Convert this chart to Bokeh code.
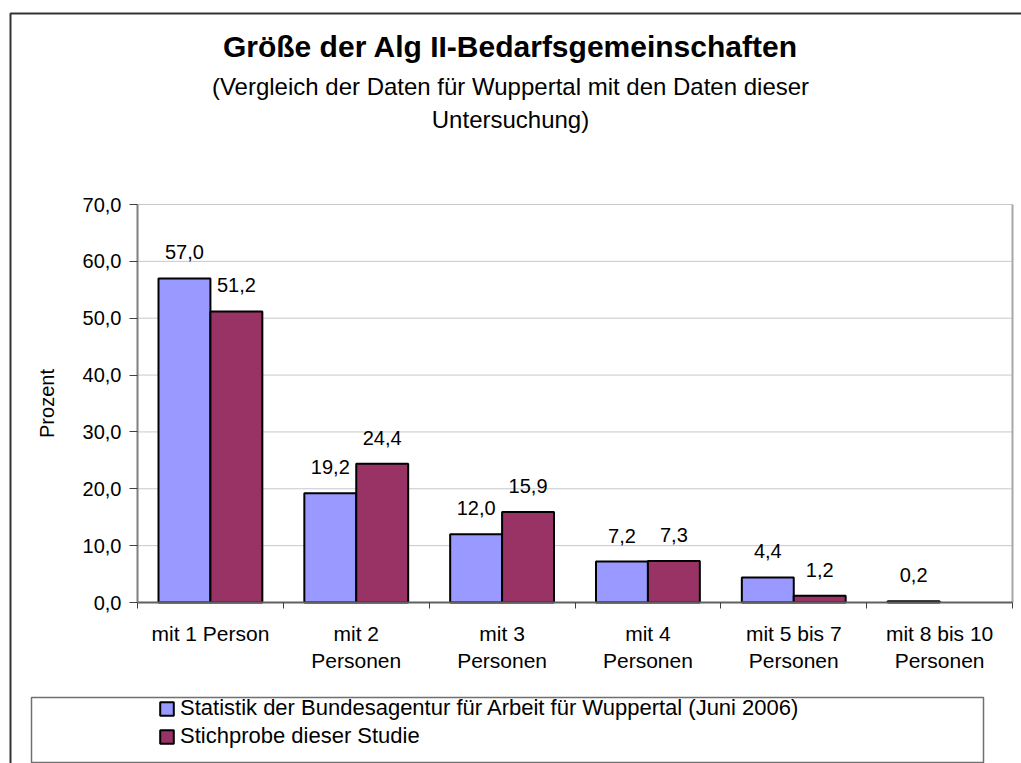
from bokeh.plotting import figure
from bokeh.models import (Range1d, LinearAxis, FixedTicker, CustomJSTickFormatter, Label,
                          BoxAnnotation, Legend, LegendItem, ColumnDataSource)
from bokeh.transform import dodge
from bokeh.core.properties import value
from bokeh.embed import file_html
from bokeh.resources import INLINE

# ---------------- data ----------------
categories = ["mit 1 Person", "mit 2\nPersonen", "mit 3\nPersonen", "mit 4\nPersonen",
              "mit 5 bis 7\nPersonen", "mit 8 bis 10\nPersonen"]
bundesagentur = [57.0, 19.2, 12.0, 7.2, 4.4, 0.2]
stichprobe = [51.2, 24.4, 15.9, 7.3, 1.2, None]
y_ticks = [0, 10, 20, 30, 40, 50, 60, 70]
series_names = ["Statistik der Bundesagentur für Arbeit für Wuppertal (Juni 2006)",
                "Stichprobe dieser Studie"]
title_text = "Größe der Alg II-Bedarfsgemeinschaften"
subtitle_lines = ["(Vergleich der Daten für Wuppertal mit den Daten dieser", "Untersuchung)"]
y_label = "Prozent"

# ---------------- layout constants (pixels) ----------------
FONT = "Liberation Sans"
W, H = 1021, 763
PLOT_L, PLOT_R, PLOT_T, PLOT_B = 137, 1012, 204, 602
N = len(categories)
YMIN, YMAX = y_ticks[0], y_ticks[-1]

xs = (PLOT_R - PLOT_L) / N
ys = (PLOT_B - PLOT_T) / (YMAX - YMIN)
x_range = Range1d(-PLOT_L / xs, N + (W - PLOT_R) / xs)
y_range = Range1d(YMIN - (H - PLOT_B) / ys, YMAX + PLOT_T / ys)


def fmt(v):
    return f"{v:.1f}".replace(".", ",")


def make_source(vals):
    idx = [i for i, v in enumerate(vals) if v is not None]
    return ColumnDataSource(dict(x=[i + 0.5 for i in idx],
                                 cat=[categories[i] for i in idx],
                                 val=[vals[i] for i in idx],
                                 lab=[fmt(vals[i]) for i in idx]))


src1 = make_source(bundesagentur)
src2 = make_source(stichprobe)

p = figure(x_range=x_range, y_range=y_range, width=W, height=H, output_backend="svg",
           toolbar_location=None, x_axis_location=None, y_axis_location=None, title=None,
           min_border=0, min_border_left=0, min_border_right=0, min_border_top=0,
           min_border_bottom=0)
p.background_fill_color = "white"
p.border_fill_color = "white"
p.outline_line_color = None
p.xgrid.grid_line_color = None
p.ygrid.grid_line_color = None

# grid lines + plot-area right border
grid_y = y_ticks[1:]
p.segment(x0=[0] * len(grid_y), x1=[N] * len(grid_y), y0=grid_y, y1=grid_y,
          line_color="#c8c8c8", line_width=1)
p.segment(x0=[N], x1=[N], y0=[YMIN], y1=[YMAX], line_color="#a8a8a8", line_width=2)

# y axis
yaxis = LinearAxis(ticker=FixedTicker(ticks=y_ticks), fixed_location=0, bounds=(YMIN, YMAX),
                   formatter=CustomJSTickFormatter(code="return tick.toFixed(1).replace('.', ',')"),
                   axis_label=y_label)
yaxis.axis_line_color = "#808080"
yaxis.axis_line_width = 2
yaxis.major_tick_line_color = "#404040"
yaxis.major_tick_out = 8
yaxis.major_tick_in = 0
yaxis.minor_tick_line_color = None
yaxis.major_label_standoff = 8
yaxis.major_label_text_font = FONT
yaxis.major_label_text_font_size = "20px"
yaxis.major_label_text_color = "black"
yaxis.axis_label_text_font = FONT
yaxis.axis_label_text_font_size = "20px"
yaxis.axis_label_text_font_style = "normal"
yaxis.axis_label_text_color = "black"
yaxis.axis_label_standoff = 22
p.add_layout(yaxis, "left")

# x axis: boundary ticks
tick_axis = LinearAxis(ticker=FixedTicker(ticks=list(range(N + 1))), fixed_location=YMIN,
                       bounds=(0, N), formatter=CustomJSTickFormatter(code="return ''"))
tick_axis.axis_line_color = "#606060"
tick_axis.axis_line_width = 2
tick_axis.major_tick_line_color = "#404040"
tick_axis.major_tick_out = 6
tick_axis.major_tick_in = 0
tick_axis.minor_tick_line_color = None
tick_axis.major_label_standoff = 0
p.add_layout(tick_axis, "below")

# x axis: category labels
cat_axis = LinearAxis(ticker=FixedTicker(ticks=[i + 0.5 for i in range(N)]), fixed_location=YMIN,
                      bounds=(0, N),
                      formatter=CustomJSTickFormatter(args=dict(cats=categories),
                                                      code="return cats[Math.floor(tick)]"))
cat_axis.axis_line_color = None
cat_axis.major_tick_line_color = None
cat_axis.minor_tick_line_color = None
cat_axis.major_label_standoff = 13
cat_axis.major_label_text_font = FONT
cat_axis.major_label_text_font_size = "21px"
cat_axis.major_label_text_color = "black"
p.add_layout(cat_axis, "below")

# bars
BW = 0.356
r1 = p.vbar(x=dodge("x", -BW / 2), top="val", width=BW, source=src1,
            fill_color="#9999FF", line_color="black", line_width=2)
r2 = p.vbar(x=dodge("x", BW / 2), top="val", width=BW, source=src2,
            fill_color="#993366", line_color="black", line_width=2)

for src, off in ((src1, -BW / 2), (src2, BW / 2)):
    p.text(x=dodge("x", off), y="val", text="lab", source=src,
           text_align="center", text_baseline="alphabetic", y_offset=-26,
           text_font=value(FONT), text_font_size="20px", text_color="black")

# titles (screen units, origin bottom-left of canvas)
p.add_layout(Label(x=510, y=H - 46, x_units="screen", y_units="screen", text=title_text,
                   text_align="center", text_baseline="alphabetic", text_font=FONT,
                   text_font_size="30px", text_font_style="bold", text_color="black"))
for i, line in enumerate(subtitle_lines):
    p.add_layout(Label(x=510, y=H - 86 - 33 * i, x_units="screen", y_units="screen", text=line,
                       text_align="center", text_baseline="alphabetic", text_font=FONT,
                       text_font_size="24px", text_color="black"))

# outer chart border
p.add_layout(BoxAnnotation(left=10, right=3000, top=H - 13, bottom=-3000,
                           left_units="screen", right_units="screen", top_units="screen",
                           bottom_units="screen", fill_alpha=0, line_color="#333333",
                           line_width=2, line_alpha=1))
# legend box
p.add_layout(BoxAnnotation(left=31, right=983, top=H - 697, bottom=H - 762,
                           left_units="screen", right_units="screen", top_units="screen",
                           bottom_units="screen", fill_alpha=0, line_color="#707070",
                           line_width=1.5, line_alpha=1))

legend = Legend(items=[LegendItem(label=series_names[0], renderers=[r1]),
                       LegendItem(label=series_names[1], renderers=[r2])],
                location=(158, H - 749), orientation="vertical")
legend.border_line_alpha = 0
legend.background_fill_alpha = 0
legend.padding = 0
legend.margin = 0
legend.spacing = 2
legend.glyph_width = 17
legend.glyph_height = 17
legend.label_standoff = 5
legend.label_height = 20
legend.label_text_font = FONT
legend.label_text_font_size = "22px"
legend.label_text_color = "black"
p.add_layout(legend)

open("out.html", "w").write(file_html(p, INLINE))
